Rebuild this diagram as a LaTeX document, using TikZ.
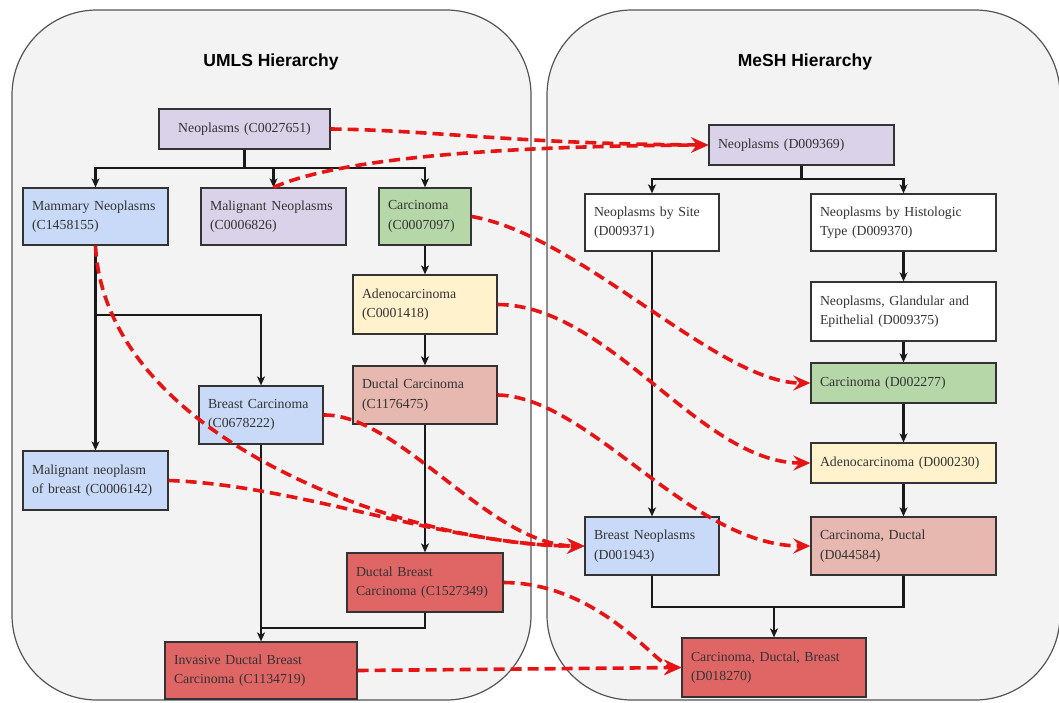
\documentclass[tikz,border=0pt]{standalone}
\usepackage{fontspec}
\setmainfont{Liberation Serif}
\newfontfamily\titlefont{Liberation Sans}
\usetikzlibrary{arrows.meta}

\definecolor{panelfill}{HTML}{F3F3F3}
\definecolor{panelline}{HTML}{555555}
\definecolor{cpurple}{HTML}{D9D2E9}
\definecolor{cblue}{HTML}{C9DAF8}
\definecolor{cgreen}{HTML}{B6D7A8}
\definecolor{cyellow}{HTML}{FFF2CC}
\definecolor{cpink}{HTML}{E6B8AF}
\definecolor{cred}{HTML}{E06666}
\definecolor{mapred}{RGB}{230,20,20}
\definecolor{boxtext}{HTML}{333333}

\begin{document}
\begin{tikzpicture}[x=1pt,y=-1pt,
  panel/.style={draw=panelline, line width=1.2pt, fill=panelfill, rounded corners=85pt},
  paneltitle/.style={font=\titlefont\bfseries\fontsize{17.5}{20}\selectfont, text=black},
  box/.style={draw=black!80, line width=1.3pt, inner xsep=9pt, inner ysep=0pt,
    align=left, font=\fontsize{13.8}{19.5}\selectfont, text=boxtext},
  tree/.style={draw=black!90, line width=2.1pt},
  treearr/.style={tree, -{Stealth[length=9pt,width=8pt,inset=2.5pt]}},
  maplink/.style={draw=mapred, line width=3.6pt, dash pattern=on 11pt off 6pt,
    -{Stealth[length=17pt,width=15pt,inset=6pt]}},
]
\useasboundingbox (0,0) rectangle (1059,702);
\fill[white] (0,0) rectangle (1059,702);

% the two hierarchy panels
\path[panel] (12,10) rectangle (531,700);
\path[panel] (547,10) rectangle (1060,700);
\node[paneltitle] (umlsTitle) at (271,62) {UMLS Hierarchy};
\node[paneltitle] (meshTitle) at (805,62) {MeSH Hierarchy};

% ---------------- UMLS boxes ----------------
\node[box, fill=cpurple, align=center, text width=153pt, minimum height=40pt] (neoC) at (244.5,129) {Neoplasms (C0027651)};
\node[box, fill=cblue, text width=127pt, minimum height=57pt] (mamm) at (95.5,216.5) {Mammary Neoplasms\\(C1458155)};
\node[box, fill=cpurple, text width=127pt, minimum height=57pt] (malig) at (273.5,216.5) {Malignant Neoplasms\\(C0006826)};
\node[box, fill=cgreen, text width=74pt, minimum height=57pt] (carcC) at (425,216.5) {Carcinoma\\(C0007097)};
\node[box, fill=cyellow, text width=126pt, minimum height=59pt] (adenoC) at (425,304.5) {Adenocarcinoma\\(C0001418)};
\node[box, fill=cpink, text width=126pt, minimum height=58pt] (ductC) at (425,395) {Ductal Carcinoma\\(C1176475)};
\node[box, fill=cblue, text width=106pt, minimum height=58pt] (breastC) at (261,415) {Breast Carcinoma\\(C0678222)};
\node[box, fill=cblue, text width=127pt, minimum height=59pt] (malBreast) at (95.5,480.5) {Malignant neoplasm\\of breast (C0006142)};
\node[box, fill=cred, text width=138pt, minimum height=59pt] (ductBreast) at (425,582.5) {Ductal Breast\\Carcinoma (C1527349)};
\node[box, fill=cred, text width=174pt, minimum height=57pt] (invasive) at (261,670.5) {Invasive Ductal Breast\\Carcinoma (C1134719)};

% ---------------- MeSH boxes ----------------
\node[box, fill=cpurple, text width=167pt, minimum height=40pt] (neoD) at (801.5,145) {Neoplasms (D009369)};
\node[box, fill=white, text width=116pt, minimum height=57pt] (site) at (652,222.5) {Neoplasms by Site\\(D009371)};
\node[box, fill=white, text width=167pt, minimum height=57pt] (histo) at (903.5,222.5) {Neoplasms by Histologic\\Type (D009370)};
\node[box, fill=white, text width=167pt, minimum height=59pt] (gland) at (903.5,311.5) {Neoplasms, Glandular and\\Epithelial (D009375)};
\node[box, fill=cgreen, text width=167pt, minimum height=40pt] (carcD) at (903.5,383) {Carcinoma (D002277)};
\node[box, fill=cyellow, text width=167pt, minimum height=40pt] (adenoD) at (903.5,463) {Adenocarcinoma (D000230)};
\node[box, fill=cblue, text width=116pt, minimum height=58pt] (breastN) at (652,546) {Breast Neoplasms\\(D001943)};
\node[box, fill=cpink, text width=167pt, minimum height=58pt] (ductD) at (903.5,546) {Carcinoma, Ductal\\(D044584)};
\node[box, fill=cred, text width=166pt, minimum height=59pt] (cdb) at (774,667.5) {Carcinoma, Ductal, Breast\\(D018270)};

% ---------------- UMLS tree ----------------
\coordinate (jU) at (244.5,168);
\draw[tree] (neoC.south) -- (jU);
\draw[treearr] (jU) -| (mamm.north);
\draw[treearr] (jU) -| (malig.north);
\draw[treearr] (jU) -| (carcC.north);
\draw[treearr] (carcC.south) -- (adenoC.north);
\draw[treearr] (adenoC.south) -- (ductC.north);
\draw[treearr] (ductC.south) -- (ductBreast.north);
\coordinate (jM) at (95.5,315);
\draw[treearr] (mamm.south) -- (malBreast.north);
\draw[treearr] (jM) -| (breastC.north);
\coordinate (jI) at (261,628);
\draw[treearr] (breastC.south) -- (invasive.north);
\draw[tree] (ductBreast.south) |- (jI);

% ---------------- MeSH tree ----------------
\coordinate (jD) at (801.5,179);
\draw[tree] (neoD.south) -- (jD);
\draw[treearr] (jD) -| (site.north);
\draw[treearr] (jD) -| (histo.north);
\draw[treearr] (histo.south) -- (gland.north);
\draw[treearr] (gland.south) -- (carcD.north);
\draw[treearr] (carcD.south) -- (adenoD.north);
\draw[treearr] (adenoD.south) -- (ductD.north);
\draw[treearr] (site.south) -- (breastN.north);
\coordinate (jB) at (774,607);
\draw[tree] (breastN.south) |- (jB) -| (ductD.south);
\draw[treearr] (jB) -- (cdb.north);

% ---------------- UMLS to MeSH mappings ----------------
\draw[maplink] (neoC.east) .. controls (430,130) and (520,144) .. (neoD.west);
\draw[maplink] (malig.north) .. controls (340,158) and (500,146) .. (neoD.west);
\draw[maplink] (carcC.east) .. controls (580,235) and (718,383) .. (carcD.west);
\draw[maplink] (adenoC.east) .. controls (610,305) and (700,463) .. (adenoD.west);
\draw[maplink] (ductC.east) .. controls (590,397) and (690,546) .. (ductD.west);
\draw[maplink] (mamm.south) .. controls (105,440) and (410,546) .. (breastN.west);
\draw[maplink] (malBreast.east) .. controls (300,485) and (450,546) .. (breastN.west);
\draw[maplink] (breastC.east) .. controls (400,414) and (490,546) .. (breastN.west);
\draw[maplink] (ductBreast.east) .. controls (600,583) and (658,667) .. (cdb.west);
\draw[maplink] (invasive.east) -- (cdb.west);
\end{tikzpicture}
\end{document}
